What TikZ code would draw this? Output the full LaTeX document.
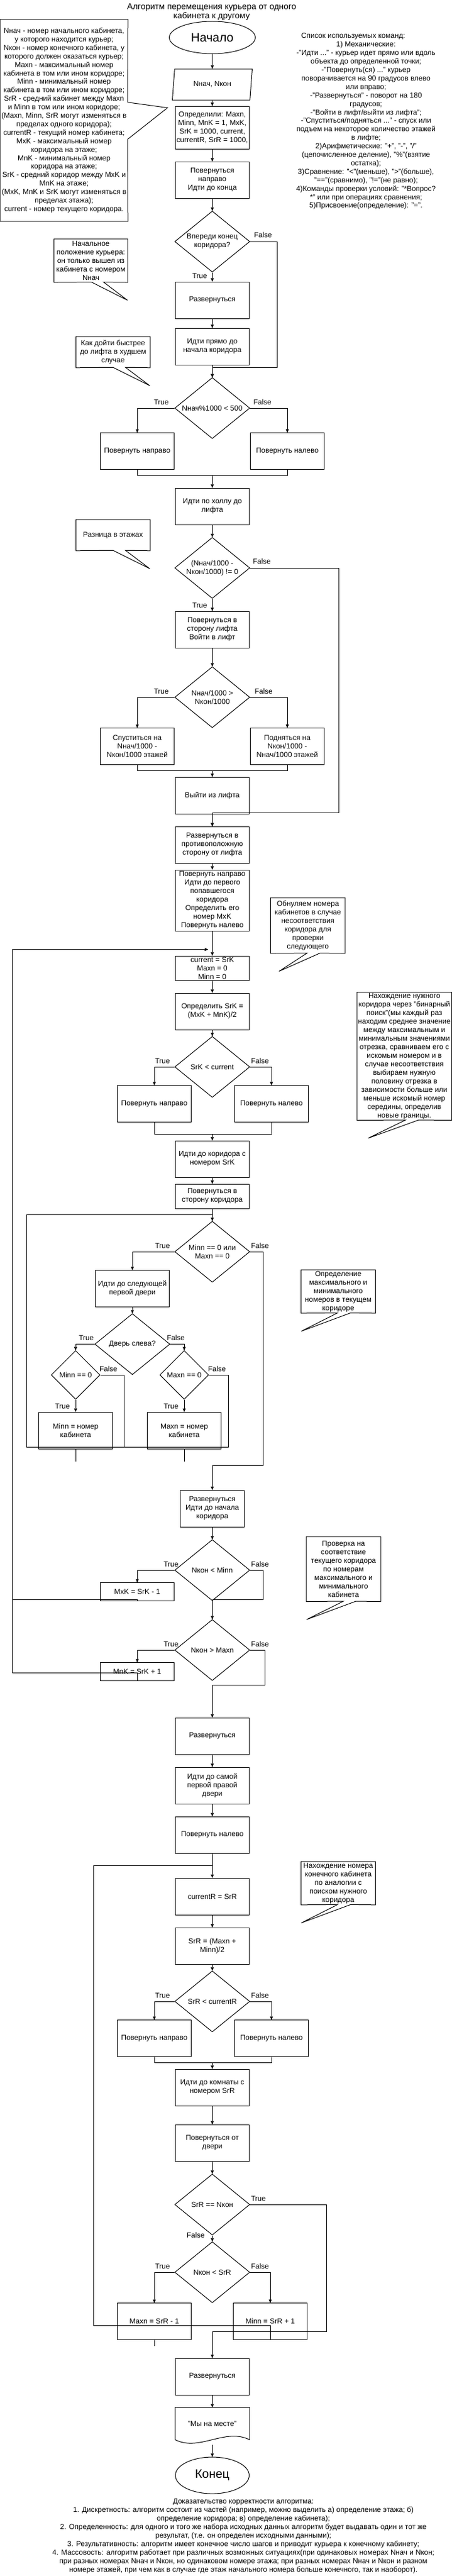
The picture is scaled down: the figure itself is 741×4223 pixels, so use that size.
\documentclass[tikz,border=0pt]{standalone}
\usepackage{fontspec}
\setmainfont{Liberation Sans}
\usetikzlibrary{shapes,arrows,positioning}
\tikzstyle{box} = [rectangle, minimum width=121pt, minimum height=60pt, text centered, align=center, inner sep=1pt, draw=black]
\tikzstyle{cond} = [diamond, aspect=1.23, minimum width=123pt, minimum height=100pt, text centered, align=center, inner sep=0pt, draw=black]
\tikzstyle{term} = [ellipse, minimum width=121pt, minimum height=60pt, draw=black, font=\fontsize{20}{24}\selectfont]
\tikzstyle{io} = [trapezium, trapezium left angle=77, trapezium right angle=103, trapezium stretches body, minimum width=131pt, minimum height=51pt, draw=black]
\tikzstyle{note} = [rectangle, inner sep=0pt, text centered, align=center]
\tikzstyle{lbl} = [inner sep=1pt]
\begin{document}
\begin{tikzpicture}[>=stealth', x=1pt, y=-1pt, line width=1pt, font=\fontsize{12}{14}\selectfont]
\useasboundingbox (0,0) rectangle (741,4223);

\node (Title) at (347,19.5) [align=center, font=\fontsize{14}{15}\selectfont] {Алгоритм перемещения курьера от одного\\кабинета к другому};

\node (Legend) at (105,197.3) [note, minimum width=208.6pt, minimum height=330pt, font=\fontsize{12}{13.9}\selectfont] {Nнач - номер начального кабинета,\\у которого находится курьер;\\Nкон - номер конечного кабинета, у\\которого должен оказаться курьер;\\Maxn - максимальный номер\\кабинета в том или ином коридоре;\\Minn - минимальный номер\\кабинета в том или ином коридоре;\\SrR - средний кабинет между Maxn\\и Minn в том или ином коридоре;\\(Maxn, Minn, SrR могут изменяться в\\пределах одного коридора);\\currentR - текущий номер кабинета;\\MxK - максимальный номер\\коридора на этаже;\\MnK - минимальный номер\\коридора на этаже;\\SrK - средний коридор между MxK и\\MnK на этаже;\\(MxK, MnK и SrK могут изменяться в\\пределах этажа);\\current - номер текущего коридора.};
\draw (Legend.north west) -- (Legend.north east) -- (209.3,167.7) -- (274.6,176.7) -- (209.3,228.3) -- (Legend.south east) -- (Legend.south west) -- cycle;

\node (Commands) at (600,199) [align=center, font=\fontsize{12}{13.9}\selectfont] {Список используемых команд:\hspace*{42pt}\\1) Механические:\hspace*{76pt}\\-"Идти ..." - курьер идет прямо или вдоль\\объекта до определенной точки;\\-"Повернуть(ся) ..." курьер\\поворачивается на 90 градусов влево\\или вправо;\\-"Развернуться" - поворот на 180\\градусов;\\-"Войти в лифт/выйти из лифта";\\-"Спуститься/подняться ..." - спуск или\\подъем на некоторое количество этажей\\в лифте;\\2)Арифметические: "+", "-", "/"\\(цепочисленное деление), "\%"(взятие\\остатка);\\3)Сравнение: "<"(меньше), ">"(больше),\\"=="(сравнимо), "!="(не равно);\\4)Команды проверки условий: "*Вопрос?\\*" или при операциях сравнения;\\5)Присвоение(определение): "=".};

\node (Start) at (348,61.5) [term, minimum width=141pt, minimum height=53pt] {Начало};
\node (Input) [io, below=24pt of Start] {Nнач, Nкон};
\node (Init) [box, below=9pt of Input, minimum height=70pt] {Определили: Maxn,\\Minn, MnK = 1, MxK,\\SrK = 1000, current,\\currentR, SrR = 1000,};
\node (TurnRight) [box, below=20pt of Init] {Повернуться\\направо\\Идти до конца};
\node (EndAhead) [cond, below=20pt of TurnRight] {Впереди конец\\коридора?};
\node (TurnBack) [box, below=15pt of EndAhead] {Развернуться};
\node (GoBack) [box, below=15pt of TurnBack] {Идти прямо до\\начала коридора};
\node (HalfCheck) [cond, below=20pt of GoBack] {Nнач\%1000 < 500};
\node (TurnR1) [box, below=40pt of HalfCheck.west, xshift=-61pt] {Повернуть направо};
\node (TurnL1) [box, below=40pt of HalfCheck.east, xshift=61pt] {Повернуть налево};
\node (Hall) [box, below=80pt of HalfCheck] {Идти по холлу до\\лифта};
\coordinate [above=20pt of Hall] (M1);
\node (FloorDiff) [cond, below=20pt of Hall] {(Nнач/1000 -\\Nкон/1000) != 0};
\node (EnterLift) [box, below=20pt of FloorDiff] {Повернуться в\\сторону лифта\\Войти в лифт};
\node (FloorDir) [cond, below=30pt of EnterLift] {Nнач/1000 >\\Nкон/1000};
\node (GoDown) [box, below=50pt of FloorDir.west, xshift=-61pt] {Спуститься на\\Nнач/1000 -\\Nкон/1000 этажей};
\node (GoUp) [box, below=50pt of FloorDir.east, xshift=61pt] {Подняться на\\Nкон/1000 -\\Nнач/1000 этажей};
\node (LeaveLift) [box, below=80pt of FloorDir] {Выйти из лифта};
\coordinate [above=10pt of LeaveLift] (M2);
\node (TurnAway) [box, below=20pt of LeaveLift] {Развернуться в\\противоположную\\сторону от лифта};
\node (FindCorr) [box, below=10pt of TurnAway, minimum height=100pt] {Повернуть направо\\Идти до первого\\попавшегося\\коридора\\Определить его\\номер MxK\\Повернуть налево};
\node (Reset) [box, below=40pt of FindCorr, minimum height=40pt] {current = SrK\\Maxn = 0\\Minn = 0};
\coordinate [above=10pt of Reset] (J5);
\node (MidCorr) [box, below=20pt of Reset] {Определить SrK =\\(MxK + MnK)/2};
\node (CorrDir) [cond, below=10pt of MidCorr] {SrK < current};
\node (TurnR2) [box, below=30pt of CorrDir.west, xshift=-33pt] {Повернуть направо};
\node (TurnL2) [box, below=30pt of CorrDir.east, xshift=35pt] {Повернуть налево};
\node (GoCorr) [box, below=70pt of CorrDir] {Идти до коридора с\\номером SrK};
\coordinate [above=10pt of GoCorr] (M3);
\node (FaceCorr) [box, below=10pt of GoCorr, minimum height=40pt] {Повернуться в\\сторону коридора};
\node (Bounds) [cond, below=20pt of FaceCorr] {Minn == 0 или\\Maxn == 0};
\coordinate [above=10pt of Bounds] (J6);
\node (NextDoor) [box, below=30pt of Bounds.west, xshift=-69pt] {Идти до следующей\\первой двери};
\node (DoorLeft) [cond, below=10pt of NextDoor] {Дверь слева?};
\node (MinZero) [cond, minimum width=80pt, minimum height=80pt, below=10pt of DoorLeft.west, xshift=-31pt] {Minn == 0};
\node (MaxZero) [cond, minimum width=80pt, minimum height=80pt, below=10pt of DoorLeft.east, xshift=23pt] {Maxn == 0};
\node (SetMin) [box, below=20pt of MinZero] {Minn = номер\\кабинета};
\node (SetMax) [box, below=20pt of MaxZero] {Maxn = номер\\кабинета};
\node (BackStart) [box, below=340pt of Bounds, minimum width=105pt] {Развернуться\\Идти до начала\\коридора};
\node (BelowMin) [cond, below=20pt of BackStart] {Nкон < Minn};
\node (SetMxK) [box, below=20pt of BelowMin.west, xshift=-61pt, minimum height=30pt] {MxK = SrK - 1};
\node (AboveMax) [cond, below=30pt of BelowMin] {Nкон > Maxn};
\node (SetMnK) [box, below=20pt of AboveMax.west, xshift=-61pt, minimum height=30pt] {MnK = SrK + 1};
\node (TurnBack2) [box, below=60pt of AboveMax] {Развернуться};
\node (FirstRight) [box, below=20pt of TurnBack2] {Идти до самой\\первой правой\\двери};
\node (TurnLeft) [box, below=20pt of FirstRight] {Повернуть налево};
\node (CurRoom) [box, below=40pt of TurnLeft] {currentR = SrR};
\coordinate [above=20pt of CurRoom] (J8);
\node (MidRoom) [box, below=20pt of CurRoom] {SrR = (Maxn +\\Minn)/2};
\node (RoomDir) [cond, below=10pt of MidRoom] {SrR < currentR};
\node (TurnR3) [box, below=30pt of RoomDir.west, xshift=-33pt] {Повернуть направо};
\node (TurnL3) [box, below=30pt of RoomDir.east, xshift=35pt] {Повернуть налево};
\node (GoRoom) [box, below=60pt of RoomDir] {Идти до комнаты с\\номером SrR};
\coordinate [above=10pt of GoRoom] (M4);
\node (FaceAway) [box, below=30pt of GoRoom] {Повернуться от\\двери};
\node (Found) [cond, below=20pt of FaceAway] {SrR == Nкон};
\node (RoomSide) [cond, below=10pt of Found] {Nкон < SrR};
\node (SetMaxn) [box, below=50pt of RoomSide.west, xshift=-33pt] {Maxn = SrR - 1};
\node (SetMinn) [box, below=50pt of RoomSide.east, xshift=33pt] {Minn = SrR + 1};
\node (TurnBack3) [box, below=90pt of RoomSide] {Развернуться};
\node (Arrived) [rectangle, minimum width=121pt, minimum height=52pt, below=20pt of TurnBack3] {"Мы на месте"};
\draw (Arrived.south west) -- (Arrived.north west) -- (Arrived.north east) -- (Arrived.south east) .. controls +(-40,-20) and +(40,20) .. (Arrived.south west);
\node (Finish) [term, below=28pt of Arrived] {Конец};

\path[->] (Start) edge (Input) (Input) edge (Init) (Init) edge (TurnRight) (TurnRight) edge (EndAhead)
  (EndAhead) edge (TurnBack) (TurnBack) edge (GoBack) (GoBack) edge (HalfCheck)
  (Hall) edge (FloorDiff) (FloorDiff) edge (EnterLift) (EnterLift) edge (FloorDir)
  (LeaveLift) edge (TurnAway) (TurnAway) edge (FindCorr) (FindCorr) edge (Reset) (Reset) edge (MidCorr) (MidCorr) edge (CorrDir)
  (GoCorr) edge (FaceCorr) (FaceCorr) edge (Bounds) (NextDoor) edge (DoorLeft)
  (MinZero) edge (SetMin) (MaxZero) edge (SetMax) (BackStart) edge (BelowMin)
  (TurnBack2) edge (FirstRight) (FirstRight) edge (TurnLeft) (TurnLeft) edge (CurRoom) (CurRoom) edge (MidRoom) (MidRoom) edge (RoomDir)
  (GoRoom) edge (FaceAway) (FaceAway) edge (Found) (Found) edge (RoomSide) (TurnBack3) edge (Arrived);
\draw[->] ([yshift=-8pt]Arrived.south) -- (Finish);

\draw[->] (EndAhead.east) -| (454.6,602) -| (HalfCheck.north);
\draw[->] (HalfCheck.west) -| (TurnR1.north);
\draw[->] (HalfCheck.east) -| (TurnL1.north);
\draw (TurnR1.south) |- (M1) -| (TurnL1.south);
\draw[->] (M1) -- (Hall);
\draw[->] (FloorDiff.east) -| (555,1332) -| (TurnAway.north);
\draw[->] (FloorDir.west) -| (GoDown.north);
\draw[->] (FloorDir.east) -| (GoUp.north);
\draw (GoDown.south) |- (M2) -| (GoUp.south);
\draw[->] (M2) -- (LeaveLift);
\draw[->] (CorrDir.west) -| (TurnR2.north);
\draw[->] (CorrDir.east) -| (TurnL2.north);
\draw (TurnR2.south) |- (M3) -| (TurnL2.south);
\draw[->] (M3) -- (GoCorr);
\draw[->] (Bounds.west) -| (NextDoor.north);
\draw[->] (DoorLeft.west) -| (MinZero.north);
\draw[->] (DoorLeft.east) -| (MaxZero.north);
\draw (MinZero.east) -| (203,2372);
\draw (MaxZero.east) -| (374,2372) -- (43,2372) |- (J6);
\draw (SetMin.south) -- ++(0,20);
\draw (SetMax.south) -- ++(0,20);
\draw[->] (Bounds.east) -| (431,2402) -| (BackStart.north);
\draw[->] (BelowMin.west) -| (SetMxK.north);
\draw (SetMxK.south) |- (20.4,2622);
\draw[->] (BelowMin.east) -| (431,2622) -| (AboveMax.north);
\draw[->] (AboveMax.west) -| (SetMnK.north);
\draw[->, shorten >=7pt] (SetMnK.south) |- (20.4,2742) |- (J5);
\draw[->] (AboveMax.east) -| (434.7,2762) -| (TurnBack2.north);
\draw[->] (RoomDir.west) -| (TurnR3.north);
\draw[->] (RoomDir.east) -| (TurnL3.north);
\draw (TurnR3.south) |- (M4) -| (TurnL3.south);
\draw[->] (M4) -- (GoRoom);
\draw[->] (Found.east) -| (535.4,3822) -| (TurnBack3.north);
\draw[->] (RoomSide.west) -| (SetMaxn.north);
\draw[->] (RoomSide.east) -| (SetMinn.north);
\draw (SetMinn.south) |- (153.4,3812) |- (J8);
\draw (SetMaxn.south) -- ++(0,10);

\node (EndAheadF) [lbl, above right=5pt and 5pt of EndAhead.east] {False};
\node (EndAheadT) [lbl, below left=0pt and 7pt of EndAhead.south] {True};
\node (HalfCheckT) [lbl, above left=4pt and 8pt of HalfCheck.west] {True};
\node (HalfCheckF) [lbl, above right=4pt and 4pt of HalfCheck.east] {False};
\node (FloorDiffF) [lbl, above right=5pt and 3pt of FloorDiff.east] {False};
\node (FloorDiffT) [lbl, below left=5pt and 7pt of FloorDiff.south] {True};
\node (FloorDirT) [lbl, above left=4pt and 8pt of FloorDir.west] {True};
\node (FloorDirF) [lbl, above right=4pt and 6pt of FloorDir.east] {False};
\node (CorrDirT) [lbl, above left=4pt and 6pt of CorrDir.west] {True};
\node (CorrDirF) [lbl, above right=4pt and 0pt of CorrDir.east] {False};
\node (BoundsT) [lbl, above left=4pt and 6pt of Bounds.west] {True};
\node (BoundsF) [lbl, above right=4pt and 0pt of Bounds.east] {False};
\node (DoorLeftT) [lbl, above left=4pt and 0pt of DoorLeft.west] {True};
\node (DoorLeftF) [lbl, above right=4pt and -7pt of DoorLeft.east] {False};
\node (MinZeroF) [lbl, above right=4pt and -3pt of MinZero.east] {False};
\node (MinZeroT) [lbl, below left=5pt and 8pt of MinZero.south] {True};
\node (MaxZeroF) [lbl, above right=4pt and -3pt of MaxZero.east] {False};
\node (MaxZeroT) [lbl, below left=5pt and 8pt of MaxZero.south] {True};
\node (BelowMinT) [lbl, above left=4pt and -8pt of BelowMin.west] {True};
\node (BelowMinF) [lbl, above right=4pt and 0pt of BelowMin.east] {False};
\node (AboveMaxT) [lbl, above left=4pt and -8pt of AboveMax.west] {True};
\node (AboveMaxF) [lbl, above right=4pt and 0pt of AboveMax.east] {False};
\node (RoomDirT) [lbl, above left=4pt and 6pt of RoomDir.west] {True};
\node (RoomDirF) [lbl, above right=4pt and 0pt of RoomDir.east] {False};
\node (FoundT) [lbl, above right=4pt and 0pt of Found.east] {True};
\node (FoundF) [lbl, left=11pt of Found.south] {False};
\node (RoomSideT) [lbl, above left=4pt and 6pt of RoomSide.west] {True};
\node (RoomSideF) [lbl, above right=4pt and 0pt of RoomSide.east] {False};

\node (NoteStart) at (149,427.3) [note, minimum width=120.2pt, minimum height=70pt] {Начальное\\положение курьера:\\он только вышел из\\кабинета с номером\\Nнач};
\draw (NoteStart.north west) -- (NoteStart.north east) -- (NoteStart.south east) -- (169.6,462.3) -- (209,492.3) -- (149.6,462.3) -- (NoteStart.south west) -- cycle;
\node (NoteLift) at (185.3,577.3) [note, minimum width=120.6pt, minimum height=50pt] {Как дойти быстрее\\до лифта в худшем\\случае};
\draw (NoteLift.north west) -- (NoteLift.north east) -- (NoteLift.south east) -- (205.7,602.3) -- (245.6,632.3) -- (185.3,602.3) -- (NoteLift.south west) -- cycle;
\node (NoteFloor) at (185.3,877.3) [note, minimum width=120.6pt, minimum height=50pt] {Разница в этажах};
\draw (NoteFloor.north west) -- (NoteFloor.north east) -- (NoteFloor.south east) -- (205.7,902.3) -- (245.6,932.3) -- (185.3,902.3) -- (NoteFloor.south west) -- cycle;
\node (NoteReset) at (504.75,1517.3) [note, minimum width=121.1pt, minimum height=90pt] {Обнуляем номера\\кабинетов в случае\\несоответствия\\коридора для\\проверки\\следующего};
\draw (NoteReset.north west) -- (NoteReset.north east) -- (NoteReset.south east) -- (525,1562.3) -- (457.5,1592.3) -- (503.6,1562.3) -- (NoteReset.south west) -- cycle;
\node (NoteSearch) at (662.85,1731.5) [note, minimum width=154.3pt, minimum height=209pt] {Нахождение нужного\\коридора через "бинарный\\поиск"(мы каждый раз\\находим среднее значение\\между максимальным и\\минимальным значениями\\отрезка, сравниваем его с\\искомым номером и в\\случае несоответствия\\выбираем нужную\\половину отрезка в\\зависимости больше или\\меньше искомый номер\\середины, определив\\новые границы.};
\draw (NoteSearch.north west) -- (NoteSearch.north east) -- (NoteSearch.south east) -- (686.4,1836) -- (603.3,1866) -- (665,1836) -- (NoteSearch.south west) -- cycle;
\node (NoteBounds) at (554.5,2117.3) [note, minimum width=121pt, minimum height=70pt] {Определение\\максимального и\\минимального\\номеров в текущем\\коридоре};
\draw (NoteBounds.north west) -- (NoteBounds.north east) -- (NoteBounds.south east) -- (574.8,2152.3) -- (494,2182.3) -- (553.4,2152.3) -- (NoteBounds.south west) -- cycle;
\node (NoteCheck) at (563.15,2572.35) [note, minimum width=121.1pt, minimum height=105.3pt] {Проверка на\\соответствие\\текущего коридора\\по номерам\\максимального и\\минимального\\кабинета};
\draw (NoteCheck.north west) -- (NoteCheck.north east) -- (NoteCheck.south east) -- (583.4,2625) -- (502.6,2655) -- (563,2625) -- (NoteCheck.south west) -- cycle;
\node (NoteRoom) at (554.5,3087.3) [note, minimum width=121pt, minimum height=70pt] {Нахождение номера\\конечного кабинета\\по аналогии с\\поиском нужного\\коридора};
\draw (NoteRoom.north west) -- (NoteRoom.north east) -- (NoteRoom.south east) -- (574.8,3122.3) -- (494,3152.3) -- (553.4,3122.3) -- (NoteRoom.south west) -- cycle;

\node (Proof) at (399,4157.5) [align=center, font=\fontsize{12}{13.9}\selectfont] {Доказательство корректности алгоритма:\\1. Дискретность: алгоритм состоит из частей (например, можно выделить а) определение этажа; б)\\определение коридора; в) определение кабинета);\\2. Определенность: для одного и того же набора исходных данных алгоритм будет выдавать один и тот же\\результат, (т.е. он определен исходными данными);\\3. Результативность: алгоритм имеет конечное число шагов и приводит курьера к конечному кабинету;\\4. Массовость: алгоритм работает при различных возможных ситуациях(при одинаковых номерах Nнач и Nкон;\\при разных номерах Nнач и Nкон, но одинаковом номере этажа; при разных номерах Nнач и Nкон и разном\\номере этажей, при чем как в случае где этаж начального номера больше конечного, так и наоборот).};
\end{tikzpicture}
\end{document}
